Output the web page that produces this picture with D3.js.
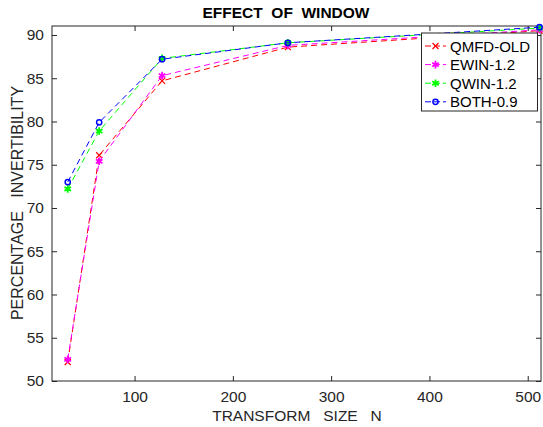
<!DOCTYPE html>
<html>
<head>
<meta charset="utf-8">
<script src="https://cdn.jsdelivr.net/npm/d3@7"></script>
<style>
  body { margin: 0; background: #fff; }
  text { font-family: "Liberation Sans", Arial, sans-serif; }
</style>
</head>
<body>
<script>
"use strict";

// transform sizes
const sizes = [32, 64, 128, 256, 512];

const qmfdOld = [52.2, 76.1, 84.7, 88.6, 90.5];
const ewin12 = [52.5, 75.4, 85.3, 88.8, 90.6];
const qwin12 = [72.2, 78.9, 87.3, 89.1, 90.8];
const both09 = [73.0, 79.9, 87.2, 89.1, 90.9];

const seriesNames = ["QMFD-OLD", "EWIN-1.2", "QWIN-1.2", "BOTH-0.9"];
const seriesColors = ["#ff0000", "#ff00ff", "#00ff00", "#0000ff"];
const seriesMarkers = ["x", "star", "star", "circle"];
const allSeries = [qmfdOld, ewin12, qwin12, both09];

const xTicks = [100, 200, 300, 400, 500];
const yTicks = [50, 55, 60, 65, 70, 75, 80, 85, 90];

const w = 543, h = 427;
const pLeft = 52, pRight = 541, pTop = 26, pBottom = 381;
const axisCol = "#262626";

const svg = d3.select("body").append("svg")
  .attr("width", w).attr("height", h);

const x = d3.scaleLinear().domain([16, 513.5]).range([pLeft, pRight]);
const y = d3.scaleLinear().domain([50, 91.04]).range([pBottom, pTop]);

// axes box
svg.append("rect")
  .attr("x", pLeft).attr("y", pTop)
  .attr("width", pRight - pLeft).attr("height", pBottom - pTop)
  .attr("fill", "none").attr("stroke", axisCol).attr("stroke-width", 1);

const tl = 5;
const xAx = svg.append("g").attr("transform", "translate(0," + pBottom + ")")
  .call(d3.axisBottom(x).tickValues(xTicks).tickSizeInner(-tl).tickSizeOuter(0).tickPadding(10));
const xAxTop = svg.append("g").attr("transform", "translate(0," + pTop + ")")
  .call(d3.axisTop(x).tickValues(xTicks).tickSizeInner(-tl).tickSizeOuter(0).tickFormat(""));
const yAx = svg.append("g").attr("transform", "translate(" + pLeft + ",0)")
  .call(d3.axisLeft(y).tickValues(yTicks).tickSizeInner(-tl).tickSizeOuter(0).tickPadding(8));
const yAxR = svg.append("g").attr("transform", "translate(" + pRight + ",0)")
  .call(d3.axisRight(y).tickValues(yTicks).tickSizeInner(-tl).tickSizeOuter(0).tickFormat(""));

[xAx, xAxTop, yAx, yAxR].forEach(g => {
  g.select(".domain").remove();
  g.selectAll("line").attr("stroke", axisCol);
  g.selectAll("text").attr("fill", axisCol).style("font-size", "15.5px")
    .style("font-family", "'Liberation Sans', Arial, sans-serif");
});

function drawMarker(g, kind, cx, cy, col) {
  const s = 3;
  if (kind === "x") {
    g.append("path")
      .attr("d", `M${cx - s},${cy - s}L${cx + s},${cy + s}M${cx - s},${cy + s}L${cx + s},${cy - s}`)
      .attr("stroke", col).attr("stroke-width", 1.2).attr("fill", "none");
  } else if (kind === "star") {
    g.append("path")
      .attr("d", d3.symbol().type(d3.symbolAsterisk).size(40)())
      .attr("transform", `translate(${cx},${cy})`)
      .attr("stroke", col).attr("stroke-width", 1.8).attr("fill", "none");
  } else {
    g.append("circle").attr("cx", cx).attr("cy", cy).attr("r", 2.6)
      .attr("stroke", col).attr("stroke-width", 1.5).attr("fill", "none");
  }
}

const line = d3.line().x(d => x(d[0])).y(d => y(d[1]));

allSeries.forEach((vals, i) => {
  const pts = sizes.map((s, j) => [s, vals[j]]);
  const g = svg.append("g");
  g.append("path").datum(pts)
    .attr("d", line)
    .attr("fill", "none")
    .attr("stroke", seriesColors[i])
    .attr("stroke-width", 1)
    .attr("stroke-dasharray", "6,4");
  pts.forEach(p => drawMarker(g, seriesMarkers[i], x(p[0]), y(p[1]), seriesColors[i]));
});

// legend
const lg = svg.append("g");
lg.append("rect").attr("x", 421.5).attr("y", 33).attr("width", 116).attr("height", 78)
  .attr("fill", "#fff").attr("stroke", axisCol).attr("stroke-width", 1);
seriesNames.forEach((name, i) => {
  const ly = 46 + i * 18.6;
  lg.append("line").attr("x1", 425).attr("x2", 446).attr("y1", ly).attr("y2", ly)
    .attr("stroke", seriesColors[i]).attr("stroke-width", 1).attr("stroke-dasharray", "6,3");
  drawMarker(lg, seriesMarkers[i], 435.5, ly, seriesColors[i]);
  lg.append("text").attr("x", 450).attr("y", ly + 5.5)
    .style("font-size", "15px").attr("fill", "#000").text(name);
});

// title and labels
svg.append("text").attr("x", 286).attr("y", 18)
  .attr("text-anchor", "middle").style("font-size", "15.5px").style("font-weight", "bold")
  .style("white-space", "pre").attr("fill", "#000").text("EFFECT  OF  WINDOW");

svg.append("text").attr("x", 297).attr("y", 421)
  .attr("text-anchor", "middle").style("font-size", "15.5px")
  .style("white-space", "pre").attr("fill", axisCol).text("TRANSFORM   SIZE   N");

svg.append("text").attr("transform", "translate(23,203) rotate(-90)")
  .attr("text-anchor", "middle").style("font-size", "16px")
  .style("white-space", "pre").attr("fill", axisCol).text("PERCENTAGE   INVERTIBILITY");
</script>
</body>
</html>
